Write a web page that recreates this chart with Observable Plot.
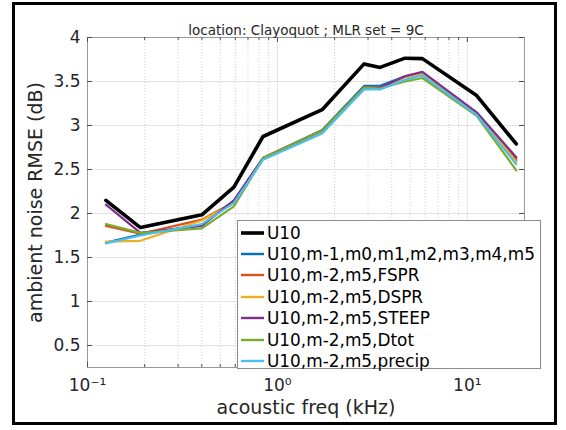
<!DOCTYPE html>
<html><head><meta charset="utf-8">
<script src="https://cdn.jsdelivr.net/npm/d3@7"></script>
<script src="https://cdn.jsdelivr.net/npm/@observablehq/plot@0.6"></script>
<style>
body{margin:0;background:#fff;font-family:"DejaVu Sans",sans-serif}
#wrap{position:relative;width:566px;height:430px;overflow:hidden;background:#fff}
#wrap > svg{position:absolute;left:0;top:0}
#border{position:absolute;left:12px;top:2px;width:539px;height:417px;border:3px solid #000;pointer-events:none}
#legend{position:absolute;left:237px;top:220px;width:302px;height:147px;border:1px solid #8c8c8c;background:#fff;font-size:16.9px;color:#000}
#legend .row{position:absolute;left:0;height:21px;display:flex;align-items:center;white-space:nowrap}
#legend .row svg{position:static;display:block;margin-left:3px;margin-right:3px}
</style></head>
<body><div id="wrap"><div id="border"></div></div>
<script>
// ---- data ----
const freqKHz = [0.125, 0.19, 0.4, 0.59, 0.84, 1.72, 2.86, 3.47, 4.7, 5.8, 11.2, 18.1];
const seriesNames = ["U10", "U10,m-1,m0,m1,m2,m3,m4,m5", "U10,m-2,m5,FSPR", "U10,m-2,m5,DSPR", "U10,m-2,m5,STEEP", "U10,m-2,m5,Dtot", "U10,m-2,m5,precip"];
const seriesColors = ["#000000", "#0072BD", "#D95319", "#EDB120", "#7E2F8E", "#77AC30", "#4DBEEE"];
const rmseU10    = [2.15, 1.84, 1.985, 2.30, 2.875, 3.18, 3.70, 3.66, 3.765, 3.76, 3.34, 2.79];
const rmseMall   = [1.67, 1.76, 1.87, 2.14, 2.63, 2.95, 3.45, 3.45, 3.56, 3.60, 3.14, 2.60];
const rmseFSPR   = [1.86, 1.77, 1.93, 2.13, 2.63, 2.94, 3.43, 3.43, 3.55, 3.59, 3.14, 2.62];
const rmseDSPR   = [1.68, 1.69, 1.92, 2.12, 2.63, 2.94, 3.43, 3.43, 3.55, 3.59, 3.13, 2.59];
const rmseSTEEP  = [2.10, 1.78, 1.86, 2.15, 2.63, 2.94, 3.43, 3.43, 3.56, 3.61, 3.15, 2.64];
const rmseDtot   = [1.88, 1.78, 1.83, 2.08, 2.63, 2.94, 3.43, 3.42, 3.50, 3.54, 3.11, 2.49];
const rmsePrecip = [1.66, 1.75, 1.88, 2.12, 2.61, 2.91, 3.41, 3.41, 3.52, 3.57, 3.12, 2.56];
const xTicks = [0.1, 1, 10];
const xTickLabels = ["10\u207B\u00B9", "10\u2070", "10\u00B9"];
const xMinor = [0.2,0.3,0.4,0.5,0.6,0.7,0.8,0.9,2,3,4,5,6,7,8,9];
const yTicks = [0.5, 1, 1.5, 2, 2.5, 3, 3.5, 4];
const yTickLabels = ["0.5", "1", "1.5", "2", "2.5", "3", "3.5", "4"];
const titleText = "location: Clayoquot ; MLR set = 9C";
const xLabel = "acoustic freq (kHz)";
const yLabel = "ambient noise RMSE (dB)";

const allSeries = [rmseU10, rmseMall, rmseFSPR, rmseDSPR, rmseSTEEP, rmseDtot, rmsePrecip];
const widths = [3.6, 2.2, 2.2, 2.2, 2.2, 2.2, 2.2];

const W = 566, H = 430, mL = 87, mR = 42, mT = 37, mB = 63;
const fw = W - mL - mR, fh = H - mT - mB;
const tickC = "#4d4d4d";

const lineMarks = allSeries.map((vals, i) =>
  Plot.line(freqKHz.map((f, j) => ({f, v: vals[j]})), {x: "f", y: "v", stroke: seriesColors[i], strokeWidth: widths[i], strokeLinejoin: "round"}));

const chart = Plot.plot({
  width: W, height: H, marginLeft: mL, marginRight: mR, marginTop: mT, marginBottom: mB,
  style: {fontFamily: "DejaVu Sans", background: "transparent", color: "#262626", overflow: "visible"},
  x: {type: "log", domain: [0.1, 20]},
  y: {domain: [0.25, 4]},
  marks: [
    Plot.ruleX(xMinor, {stroke: "#cfcfcf", strokeDasharray: "1,2"}),
    Plot.ruleX(xTicks, {stroke: "#e3e3e3"}),
    Plot.ruleY(yTicks, {stroke: "#e3e3e3"}),
    Plot.frame({stroke: "#9a9a9a"}),
    Plot.ruleX(xTicks, {insetTop: fh - 5, stroke: tickC}),
    Plot.ruleX(xTicks, {insetBottom: fh - 5, stroke: tickC}),
    Plot.ruleX(xMinor, {insetTop: fh - 3, stroke: tickC}),
    Plot.ruleX(xMinor, {insetBottom: fh - 3, stroke: tickC}),
    Plot.ruleY(yTicks, {insetRight: fw - 5, stroke: tickC}),
    Plot.ruleY(yTicks, {insetLeft: fw - 5, stroke: tickC}),
    Plot.axisX(xTicks, {tickSize: 0, tickPadding: 11, fontSize: 17, label: null, tickFormat: d => xTickLabels[xTicks.indexOf(d)]}),
    Plot.axisY(yTicks, {tickSize: 0, tickPadding: 7, fontSize: 17, label: null, tickFormat: d => yTickLabels[yTicks.indexOf(d)]}),
    ...lineMarks,
    Plot.text([titleText], {frameAnchor: "top", dy: -12, fontSize: 13.5, fill: "#262626"}),
    Plot.text([xLabel], {frameAnchor: "bottom", dy: 46, fontSize: 19, fill: "#262626"}),
    Plot.text([yLabel], {frameAnchor: "left", textAnchor: "middle", rotate: -90, dx: -52, fontSize: 19, fill: "#262626"})
  ]
});
const wrap = document.getElementById("wrap");
wrap.insertBefore(chart, wrap.firstChild);

// legend
const lg = document.createElement("div");
lg.id = "legend";
seriesNames.forEach((name, i) => {
  const r = document.createElement("div");
  r.className = "row";
  r.style.top = (1 + i * 21.4) + "px";
  r.innerHTML = `<svg width="23" height="6"><line x1="0" x2="23" y1="3" y2="3" stroke="${seriesColors[i]}" stroke-width="${i === 0 ? 3.6 : 2.4}"/></svg><span>${name}</span>`;
  lg.appendChild(r);
});
wrap.appendChild(lg);
</script>
</body></html>
